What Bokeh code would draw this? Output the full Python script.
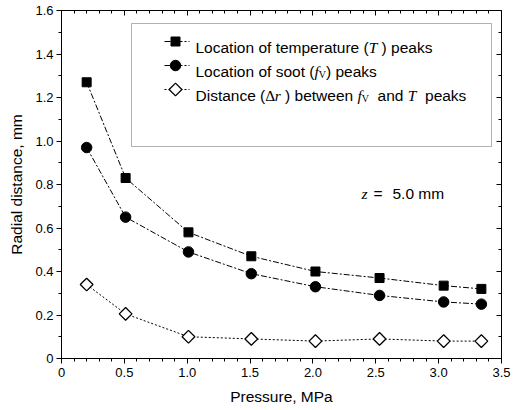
import math
from bokeh.plotting import figure
from bokeh.models import (LinearAxis, Range1d, SingleIntervalTicker,
                          CustomJSTickFormatter, BoxAnnotation, Label)
from bokeh.embed import file_html
from bokeh.resources import INLINE

# ---------------- data ----------------
pressure = [0.20, 0.51, 1.01, 1.51, 2.02, 2.53, 3.04, 3.34]
temp_peak = [1.27, 0.83, 0.58, 0.47, 0.40, 0.37, 0.335, 0.32]
soot_peak = [0.97, 0.65, 0.49, 0.39, 0.33, 0.29, 0.26, 0.25]
delta_r = [0.34, 0.205, 0.10, 0.09, 0.08, 0.09, 0.08, 0.08]

x_ticks_interval = 0.5
y_ticks_interval = 0.2
x_label = "Pressure, MPa"
y_label = "Radial distance, mm"

# ---------------- figure ----------------
FW, FH = 440, 348
L, R, T, B = 61, 17, 10, 52
XMAX, YMAX = 3.5, 1.6

p = figure(frame_width=FW, frame_height=FH,
           x_range=Range1d(0, XMAX), y_range=Range1d(0, YMAX),
           output_backend="svg", toolbar_location=None,
           min_border_left=L, min_border_right=R,
           min_border_top=T, min_border_bottom=B)
p.xgrid.visible = False
p.ygrid.visible = False
p.outline_line_color = "black"
p.outline_line_width = 1
p.background_fill_color = "white"
p.border_fill_color = "white"

fmt = CustomJSTickFormatter(code="return Math.abs(tick) < 1e-9 ? '0' : tick.toFixed(1);")
blank = CustomJSTickFormatter(code="return '';")

SANS = "Liberation Sans"
SERIF = "Liberation Serif"
LBL = 15.5

def style_axis(ax, ticker, formatter, labels=True):
    ax.ticker = ticker
    ax.formatter = formatter
    ax.axis_line_color = "black"
    ax.major_tick_line_color = "black"
    ax.minor_tick_line_color = "black"
    ax.major_label_text_font = SANS
    ax.major_label_text_color = "black"
    if labels:
        ax.major_label_text_font_size = "13px"
        ax.major_tick_in = 0
        ax.major_tick_out = 5
        ax.minor_tick_in = 0
        ax.minor_tick_out = 3
    else:
        ax.major_label_text_font_size = "0px"
        ax.major_label_standoff = 0
        ax.major_tick_in = 5
        ax.major_tick_out = 0
        ax.minor_tick_in = 3
        ax.minor_tick_out = 0

xb = p.xaxis[0]
style_axis(xb, SingleIntervalTicker(interval=x_ticks_interval, num_minor_ticks=5), fmt)
xb.major_label_standoff = 4
xb.axis_label = x_label
xb.axis_label_text_font = SANS
xb.axis_label_text_font_size = f"{LBL}px"
xb.axis_label_text_font_style = "normal"
xb.axis_label_text_color = "black"
xb.axis_label_standoff = 8

yl = p.yaxis[0]
style_axis(yl, SingleIntervalTicker(interval=y_ticks_interval, num_minor_ticks=2), fmt)
yl.major_label_standoff = 3
yl.axis_label = y_label
yl.axis_label_text_font = SANS
yl.axis_label_text_font_size = f"{LBL}px"
yl.axis_label_text_font_style = "normal"
yl.axis_label_text_color = "black"
yl.axis_label_standoff = 7

xt = LinearAxis()
style_axis(xt, SingleIntervalTicker(interval=x_ticks_interval, num_minor_ticks=5), blank, labels=False)
p.add_layout(xt, "above")
yr = LinearAxis()
style_axis(yr, SingleIntervalTicker(interval=y_ticks_interval, num_minor_ticks=2), blank, labels=False)
p.add_layout(yr, "right")

# ---------------- styles ----------------
DASHDOT = "6 2 2 2"
DOT = "2 2"
S_T = dict(marker="square", size=9, fill_color="black", line_color="black")
S_F = dict(marker="circle", size=10.5, fill_color="black", line_color="black")
S_D = dict(marker="square", size=9, angle=math.pi / 4, fill_color="white",
           line_color="black", line_width=1.3)

# ---------------- data series ----------------
p.line(pressure, temp_peak, line_color="black", line_width=1, line_dash=DASHDOT)
p.scatter(pressure, temp_peak, **S_T)
p.line(pressure, soot_peak, line_color="black", line_width=1, line_dash=DASHDOT)
p.scatter(pressure, soot_peak, **S_F)
p.line(pressure, delta_r, line_color="black", line_width=1, line_dash=DOT)
p.scatter(pressure, delta_r, **S_D)

# ---------------- helpers (pixel -> data, for layout only) ----------------
XS = XMAX / FW
YS = YMAX / FH
def dx(px):
    return (px - L) * XS
def dy(py):
    return (T + FH - py) * YS

ARIAL = {' ': 278, '(': 333, ')': 333, ',': 278, '.': 278, '=': 584,
         '0': 556, '5': 556, 'L': 556, 'D': 722, 'M': 833, 'P': 667,
         'a': 556, 'b': 556, 'c': 500, 'd': 556, 'e': 556, 'f': 278,
         'h': 556, 'i': 222, 'k': 500, 'l': 222, 'm': 833, 'n': 556,
         'o': 556, 'p': 556, 'r': 333, 's': 500, 't': 278, 'u': 556,
         'w': 722}
TIMES_I = {'T': 556, 'f': 278, 'r': 389, 'z': 389, ' ': 250}
TIMES = {'V': 722, 'Δ': 612, ' ': 250}

def piece_width(txt, kind, size):
    if kind == "sans":
        tab = ARIAL
    elif kind == "ital":
        tab = TIMES_I
    else:
        tab = TIMES
    return sum(tab.get(c, 556) for c in txt) * size / 1000.0

def rich_text(x0, base, pieces, size=LBL):
    x = x0
    for txt, kind in pieces:
        fs = size
        b = base
        font, style = SANS, "normal"
        if kind == "ital":
            font, style = SERIF, "italic"
        elif kind == "serif":
            font = SERIF
        elif kind == "sub":
            font = SERIF
            fs = 10
            b = base + 3
        k = kind if kind != "sub" else "serif"
        lead = len(txt) - len(txt.lstrip(" "))
        lead_w = piece_width(" " * lead, k, fs)
        s = txt.strip(" ")
        if s:
            p.add_layout(Label(x=dx(x + lead_w), y=dy(b), text=s,
                               text_font=font, text_font_style=style,
                               text_font_size=f"{fs}px", text_color="black",
                               text_baseline="alphabetic", text_align="left"))
        x += piece_width(txt, k, fs)

# ---------------- manual legend ----------------
p.add_layout(BoxAnnotation(left=dx(131), right=dx(491), top=dy(23), bottom=dy(146),
                           fill_color="white", fill_alpha=1.0,
                           line_color="black", line_width=1, level="underlay"))

rows = [
    (41, DASHDOT, S_T, [("Location of temperature (", "sans"), ("T", "ital"), (" ) peaks", "sans")]),
    (65, DASHDOT, S_F, [("Location of soot (", "sans"), ("f", "ital"), ("V", "sub"), (") peaks", "sans")]),
    (89, DOT, S_D, [("Distance (", "sans"), ("Δ", "serif"), ("r", "ital"), (" ) between ", "sans"),
                    ("f", "ital"), ("V", "sub"), ("  and ", "sans"), ("T", "ital"), ("  peaks", "sans")]),
]
for yc, dash, mk, pieces in rows:
    p.line([dx(164), dx(189)], [dy(yc), dy(yc)], line_color="black", line_width=1, line_dash=dash)
    p.scatter([dx(175)], [dy(yc)], **mk)
    rich_text(195, yc + 5.5, pieces)

# annotation "z = 5.0 mm"
rich_text(361, 192.5, [("z", "ital")])
rich_text(373, 192.5, [("=", "sans")])
rich_text(392, 192.5, [("5.0 mm", "sans")])

open("out.html", "w").write(file_html(p, INLINE))
